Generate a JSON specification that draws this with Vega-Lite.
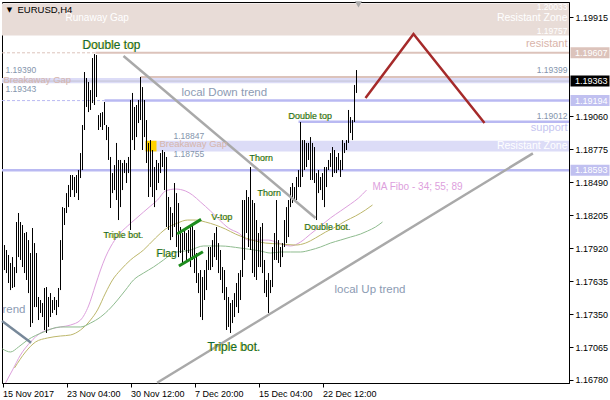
{
  "$schema": "https://vega.github.io/schema/vega-lite/v6.json",
  "width": 567,
  "height": 381,
  "autosize": "none",
  "padding": {"left": 2, "top": 2, "right": 41, "bottom": 17},
  "background": "white",
  "config": {"view": {"stroke": "#000000", "strokeWidth": 1}, "text": {"font": "Liberation Sans"}},
  "encoding": {
    "x": {"field": "i", "type": "quantitative", "scale": {"domain": [0.75, 284.25], "nice": false, "zero": false},
      "axis": {"values": [1, 33, 65, 97, 129, 161], "labelExpr": "datum.value == 1 ? '15 Nov 2017' : datum.value == 33 ? '23 Nov 04:00' : datum.value == 65 ? '30 Nov 12:00' : datum.value == 97 ? '7 Dec 20:00' : datum.value == 129 ? '15 Dec 04:00' : '22 Dec 12:00'", "title": null, "grid": false, "tickSize": 4, "labelAlign": "left", "labelBaseline": "top", "labelPadding": 2, "labelFont": "Liberation Sans", "labelFontSize": 9, "labelColor": "#000000", "tickColor": "#000000", "domainColor": "#000000", "labelOverlap": false, "labelFlush": false}},
    "y": {"field": "p", "type": "quantitative", "scale": {"domain": [1.16754, 1.20046], "nice": false, "zero": false},
      "axis": {"orient": "right", "values": [1.1678, 1.17065, 1.1735, 1.17635, 1.1792, 1.18205, 1.1849, 1.18775, 1.1906, 1.19915], "format": ".5f", "title": null, "grid": false, "tickSize": 4, "labelPadding": 2, "labelFont": "Liberation Sans", "labelFontSize": 9, "labelColor": "#000000", "tickColor": "#000000", "domainColor": "#000000", "labelOverlap": false, "labelFlush": false}}
  },
  "layer": [
    {"data": {"values": [{"i": 0.75, "i2": 284.25, "p": 1.20033, "p2": 1.19757}]},
     "mark": {"type": "rect", "color": "#e8dcd7"},
     "encoding": {"x2": {"field": "i2"}, "y2": {"field": "p2"}}},
    {"data": {"values": [{"i": 0.75, "i2": 284.25, "p": 1.1939, "p2": 1.19343}, {"i": 72.5, "i2": 284.25, "p": 1.18847, "p2": 1.18755}]},
     "mark": {"type": "rect", "color": "#dcdcf7"},
     "encoding": {"x2": {"field": "i2"}, "y2": {"field": "p2"}}},
    {"data": {"values": [{"i": 72.5, "i2": 78, "p": 1.18847, "p2": 1.18755}]},
     "mark": {"type": "rect", "color": "#ffd200"},
     "encoding": {"x2": {"field": "i2"}, "y2": {"field": "p2"}}},
    {"data": {"values": [{"i": 47.5, "i2": 284.25, "p": 1.19607}, {"i": 70, "i2": 284.25, "p": 1.19399}]},
     "mark": {"type": "rule", "color": "#dcc3bb", "strokeWidth": 2},
     "encoding": {"x2": {"field": "i2"}}},
    {"data": {"values": [{"i": 0.75, "i2": 47.5, "p": 1.19607}]},
     "mark": {"type": "rule", "color": "#dcc3bb", "strokeWidth": 1, "strokeDash": [3, 2]},
     "encoding": {"x2": {"field": "i2"}}},
    {"data": {"values": [{"i": 52, "i2": 284.25, "p": 1.19194}, {"i": 149, "i2": 284.25, "p": 1.19012}, {"i": 0.75, "i2": 284.25, "p": 1.18593}]},
     "mark": {"type": "rule", "color": "#b9b9f2", "strokeWidth": 2.5},
     "encoding": {"x2": {"field": "i2"}}},
    {"data": {"values": [{"i": 0.75, "i2": 52, "p": 1.19194}]},
     "mark": {"type": "rule", "color": "#b9b9f2", "strokeWidth": 1, "strokeDash": [3, 2]},
     "encoding": {"x2": {"field": "i2"}}},
    {"data": {"values": [{"i": 0.75, "i2": 284.25, "p": 1.19363}]},
     "mark": {"type": "rule", "color": "#c4c4d4", "strokeWidth": 1},
     "encoding": {"x2": {"field": "i2"}}},
    {"data": {"values": [
      {"m":"34","i":2.5,"p":1.16754},{"m":"34","i":6,"p":1.16866},{"m":"34","i":10,"p":1.16996},{"m":"34","i":15,"p":1.17108},{"m":"34","i":20,"p":1.17186},{"m":"34","i":25,"p":1.1722},{"m":"34","i":30,"p":1.17238},{"m":"34","i":35,"p":1.17255},{"m":"34","i":40,"p":1.17298},{"m":"34","i":44,"p":1.17419},{"m":"34","i":47.5,"p":1.17601},{"m":"34","i":50,"p":1.1773},{"m":"34","i":52.5,"p":1.17842},{"m":"34","i":55,"p":1.17929},{"m":"34","i":59,"p":1.18033},{"m":"34","i":63.5,"p":1.1811},{"m":"34","i":67.5,"p":1.18171},{"m":"34","i":71.5,"p":1.18231},{"m":"34","i":75,"p":1.18283},{"m":"34","i":78.5,"p":1.18335},{"m":"34","i":82.5,"p":1.18413},{"m":"34","i":87.5,"p":1.1843},{"m":"34","i":92.5,"p":1.18413},{"m":"34","i":96,"p":1.18378},{"m":"34","i":100,"p":1.18318},{"m":"34","i":105,"p":1.1824},{"m":"34","i":109,"p":1.18171},{"m":"34","i":114,"p":1.18093},{"m":"34","i":119,"p":1.1805},{"m":"34","i":124,"p":1.17989},{"m":"34","i":129,"p":1.17989},{"m":"34","i":134,"p":1.17989},{"m":"34","i":139,"p":1.17963},{"m":"34","i":145,"p":1.17938},{"m":"34","i":150,"p":1.17972},{"m":"34","i":155,"p":1.18041},{"m":"34","i":160,"p":1.1811},{"m":"34","i":165,"p":1.1818},{"m":"34","i":170,"p":1.1824},{"m":"34","i":175,"p":1.183},{"m":"34","i":179,"p":1.18352},{"m":"34","i":183,"p":1.18421},
      {"m":"55","i":7,"p":1.16884},{"m":"55","i":12.5,"p":1.17022},{"m":"55","i":17.5,"p":1.17108},{"m":"55","i":23.5,"p":1.17143},{"m":"55","i":30,"p":1.1716},{"m":"55","i":35,"p":1.17169},{"m":"55","i":40,"p":1.17212},{"m":"55","i":45,"p":1.17298},{"m":"55","i":48.5,"p":1.17385},{"m":"55","i":52.5,"p":1.17531},{"m":"55","i":56,"p":1.17644},{"m":"55","i":60,"p":1.1773},{"m":"55","i":65,"p":1.17817},{"m":"55","i":71.5,"p":1.17903},{"m":"55","i":77.5,"p":1.18007},{"m":"55","i":82.5,"p":1.18084},{"m":"55","i":88.5,"p":1.18136},{"m":"55","i":93.5,"p":1.18162},{"m":"55","i":97.5,"p":1.18162},{"m":"55","i":102.5,"p":1.18145},{"m":"55","i":107.5,"p":1.18119},{"m":"55","i":112.5,"p":1.18084},{"m":"55","i":117.5,"p":1.18041},{"m":"55","i":122.5,"p":1.18007},{"m":"55","i":127.5,"p":1.17981},{"m":"55","i":132.5,"p":1.17963},{"m":"55","i":140,"p":1.17955},{"m":"55","i":147.5,"p":1.17946},{"m":"55","i":152.5,"p":1.17963},{"m":"55","i":157.5,"p":1.18007},{"m":"55","i":162.5,"p":1.18058},{"m":"55","i":167.5,"p":1.18102},{"m":"55","i":172.5,"p":1.18154},{"m":"55","i":177.5,"p":1.18197},{"m":"55","i":182.5,"p":1.18249},{"m":"55","i":186,"p":1.18292},
      {"m":"89","i":1,"p":1.17048},{"m":"89","i":5,"p":1.17022},{"m":"89","i":9,"p":1.17065},{"m":"89","i":13.5,"p":1.17125},{"m":"89","i":21.5,"p":1.17194},{"m":"89","i":30,"p":1.17238},{"m":"89","i":40,"p":1.17238},{"m":"89","i":45,"p":1.17272},{"m":"89","i":50,"p":1.17324},{"m":"89","i":55,"p":1.17402},{"m":"89","i":58.5,"p":1.17471},{"m":"89","i":62.5,"p":1.17557},{"m":"89","i":66.5,"p":1.17644},{"m":"89","i":71.5,"p":1.17704},{"m":"89","i":76.5,"p":1.17756},{"m":"89","i":81.5,"p":1.17817},{"m":"89","i":86.5,"p":1.17877},{"m":"89","i":95,"p":1.17903},{"m":"89","i":101.5,"p":1.17938},{"m":"89","i":110,"p":1.17938},{"m":"89","i":120,"p":1.1792},{"m":"89","i":130,"p":1.17894},{"m":"89","i":135,"p":1.17877},{"m":"89","i":140,"p":1.17886},{"m":"89","i":145,"p":1.17886},{"m":"89","i":150,"p":1.17886},{"m":"89","i":155,"p":1.17903},{"m":"89","i":160,"p":1.17929},{"m":"89","i":165,"p":1.17963},{"m":"89","i":170,"p":1.17989},{"m":"89","i":175,"p":1.18015},{"m":"89","i":180,"p":1.18041},{"m":"89","i":183.5,"p":1.18067},{"m":"89","i":187.5,"p":1.18102},{"m":"89","i":191,"p":1.18145}
     ]},
     "mark": {"type": "line", "strokeWidth": 1, "interpolate": "monotone"},
     "encoding": {"color": {"field": "m", "type": "nominal", "scale": {"domain": ["34", "55", "89"], "range": ["#dda0dd", "#bdb76b", "#8fbc8f"]}, "legend": null}}},
    {"data": {"values": [
      {"i":2,"p":1.1773,"p2":1.17946},{"i":3,"p":1.17704,"p2":1.17903},{"i":4,"p":1.17618,"p2":1.1786},{"i":5,"p":1.17557,"p2":1.17791},{"i":6,"p":1.17575,"p2":1.17842},{"i":7,"p":1.17583,"p2":1.17756},{"i":8,"p":1.17704,"p2":1.18145},{"i":9,"p":1.17842,"p2":1.18223},{"i":10,"p":1.17817,"p2":1.18145},{"i":11,"p":1.17756,"p2":1.18119},{"i":12,"p":1.17704,"p2":1.1805},{"i":13,"p":1.17644,"p2":1.18058},{"i":14,"p":1.17531,"p2":1.17989},{"i":15,"p":1.17238,"p2":1.17877},{"i":16,"p":1.17272,"p2":1.18093},{"i":17,"p":1.1741,"p2":1.17963},{"i":18,"p":1.1741,"p2":1.17877},{"i":19,"p":1.17298,"p2":1.17497},{"i":20,"p":1.17359,"p2":1.17471},{"i":21,"p":1.17324,"p2":1.17445},{"i":22,"p":1.17212,"p2":1.17575},{"i":23,"p":1.17186,"p2":1.17583},{"i":24,"p":1.17238,"p2":1.17497},{"i":25,"p":1.17324,"p2":1.17531},{"i":26,"p":1.17359,"p2":1.17471},{"i":27,"p":1.17385,"p2":1.17497},{"i":28,"p":1.17341,"p2":1.17471},{"i":29,"p":1.1741,"p2":1.17575},{"i":30,"p":1.17557,"p2":1.17989},
      {"i":31,"p":1.17817,"p2":1.18274},{"i":32,"p":1.18119,"p2":1.18266},{"i":33,"p":1.18223,"p2":1.18395},{"i":34,"p":1.18274,"p2":1.18465},{"i":35,"p":1.18361,"p2":1.18551},{"i":36,"p":1.18421,"p2":1.18551},{"i":37,"p":1.18361,"p2":1.18534},{"i":38,"p":1.18395,"p2":1.18551},{"i":39,"p":1.18335,"p2":1.18594},{"i":40,"p":1.18525,"p2":1.18741},{"i":41,"p":1.18594,"p2":1.18983},{"i":42,"p":1.1894,"p2":1.19441},{"i":43,"p":1.19139,"p2":1.19389},{"i":44,"p":1.19095,"p2":1.19355},{"i":45,"p":1.19113,"p2":1.19285},{"i":46,"p":1.19173,"p2":1.19562},{"i":47,"p":1.19156,"p2":1.19596},{"i":48,"p":1.19225,"p2":1.19588},{"i":49,"p":1.1894,"p2":1.19069},{"i":50,"p":1.18966,"p2":1.19087},{"i":51,"p":1.1894,"p2":1.19095},{"i":52,"p":1.18983,"p2":1.19182},{"i":53,"p":1.18853,"p2":1.18983},{"i":54,"p":1.18681,"p2":1.18966},{"i":55,"p":1.18266,"p2":1.18707},{"i":56,"p":1.18395,"p2":1.18568},{"i":57,"p":1.18421,"p2":1.18637},{"i":58,"p":1.18335,"p2":1.18828},{"i":59,"p":1.18162,"p2":1.18681},{"i":60,"p":1.18274,"p2":1.18681},
      {"i":61,"p":1.18421,"p2":1.18655},{"i":62,"p":1.18568,"p2":1.18681},{"i":63,"p":1.18482,"p2":1.18655},{"i":64,"p":1.18568,"p2":1.18707},{"i":65,"p":1.18076,"p2":1.19199},{"i":66,"p":1.18853,"p2":1.1926},{"i":67,"p":1.18767,"p2":1.19139},{"i":68,"p":1.18879,"p2":1.19156},{"i":69,"p":1.19,"p2":1.19199},{"i":70,"p":1.19026,"p2":1.19398},{"i":71,"p":1.18767,"p2":1.19311},{"i":72,"p":1.18879,"p2":1.19199},{"i":73,"p":1.18655,"p2":1.19026},{"i":74,"p":1.18361,"p2":1.18828},{"i":75,"p":1.18447,"p2":1.18853},{"i":76,"p":1.18361,"p2":1.18767},{"i":77,"p":1.18274,"p2":1.1862},{"i":78,"p":1.18421,"p2":1.18681},{"i":79,"p":1.18482,"p2":1.18655},{"i":80,"p":1.18568,"p2":1.18741},{"i":81,"p":1.1862,"p2":1.18767},{"i":82,"p":1.18421,"p2":1.1875},{"i":83,"p":1.18102,"p2":1.18707},{"i":84,"p":1.18076,"p2":1.18361},{"i":85,"p":1.17989,"p2":1.18274},{"i":86,"p":1.18015,"p2":1.18223},{"i":87,"p":1.18102,"p2":1.18482},{"i":88,"p":1.17929,"p2":1.18395},{"i":89,"p":1.17842,"p2":1.18309},{"i":90,"p":1.17877,"p2":1.18102},
      {"i":91,"p":1.17791,"p2":1.1805},{"i":92,"p":1.17903,"p2":1.18076},{"i":93,"p":1.17817,"p2":1.1805},{"i":94,"p":1.17877,"p2":1.18076},{"i":95,"p":1.17756,"p2":1.18102},{"i":96,"p":1.17817,"p2":1.18136},{"i":97,"p":1.17704,"p2":1.18076},{"i":98,"p":1.17618,"p2":1.17877},{"i":99,"p":1.17531,"p2":1.17704},{"i":100,"p":1.17324,"p2":1.1773},{"i":101,"p":1.17298,"p2":1.1767},{"i":102,"p":1.17471,"p2":1.1773},{"i":103,"p":1.17557,"p2":1.17817},{"i":104,"p":1.1773,"p2":1.17929},{"i":105,"p":1.1773,"p2":1.17929},{"i":106,"p":1.17756,"p2":1.17989},{"i":107,"p":1.17842,"p2":1.1805},{"i":108,"p":1.17817,"p2":1.18102},{"i":109,"p":1.17704,"p2":1.17963},{"i":110,"p":1.17644,"p2":1.17903},{"i":111,"p":1.17531,"p2":1.17756},{"i":112,"p":1.17471,"p2":1.1773},{"i":113,"p":1.17212,"p2":1.17583},{"i":114,"p":1.17238,"p2":1.17497},{"i":115,"p":1.17186,"p2":1.17445},{"i":116,"p":1.17272,"p2":1.17471},{"i":117,"p":1.17324,"p2":1.17531},{"i":118,"p":1.1741,"p2":1.17618},{"i":119,"p":1.17359,"p2":1.17704},{"i":120,"p":1.17471,"p2":1.1773},
      {"i":121,"p":1.1767,"p2":1.18335},{"i":122,"p":1.17817,"p2":1.18335},{"i":123,"p":1.1805,"p2":1.18421},{"i":124,"p":1.17929,"p2":1.18361},{"i":125,"p":1.17903,"p2":1.1862},{"i":126,"p":1.17704,"p2":1.18335},{"i":127,"p":1.1767,"p2":1.18309},{"i":128,"p":1.17644,"p2":1.18162},{"i":129,"p":1.17756,"p2":1.1805},{"i":130,"p":1.17756,"p2":1.18102},{"i":131,"p":1.17704,"p2":1.18136},{"i":132,"p":1.17531,"p2":1.17817},{"i":133,"p":1.17497,"p2":1.17644},{"i":134,"p":1.17359,"p2":1.17704},{"i":135,"p":1.17531,"p2":1.17644},{"i":136,"p":1.17583,"p2":1.17929},{"i":137,"p":1.17817,"p2":1.1805},{"i":138,"p":1.17817,"p2":1.18335},{"i":139,"p":1.17791,"p2":1.17989},{"i":140,"p":1.17756,"p2":1.17929},{"i":141,"p":1.17842,"p2":1.17963},{"i":142,"p":1.17929,"p2":1.18162},{"i":143,"p":1.17963,"p2":1.18274},{"i":144,"p":1.18015,"p2":1.18335},{"i":145,"p":1.18274,"p2":1.18447},{"i":146,"p":1.18309,"p2":1.18482},{"i":147,"p":1.18335,"p2":1.18447},{"i":148,"p":1.18335,"p2":1.18534},{"i":149,"p":1.18447,"p2":1.18594},{"i":150,"p":1.18447,"p2":1.19009},
      {"i":151,"p":1.18534,"p2":1.18853},{"i":152,"p":1.18594,"p2":1.18853},{"i":153,"p":1.1862,"p2":1.18828},{"i":154,"p":1.18681,"p2":1.18828},{"i":155,"p":1.18508,"p2":1.18879},{"i":156,"p":1.18508,"p2":1.18828},{"i":157,"p":1.18482,"p2":1.18793},{"i":158,"p":1.18162,"p2":1.18568},{"i":159,"p":1.18395,"p2":1.18594},{"i":160,"p":1.18421,"p2":1.18534},{"i":161,"p":1.18335,"p2":1.18568},{"i":162,"p":1.18274,"p2":1.1862},{"i":163,"p":1.18447,"p2":1.1862},{"i":164,"p":1.18594,"p2":1.18681},{"i":165,"p":1.1862,"p2":1.18741},{"i":166,"p":1.18534,"p2":1.18793},{"i":167,"p":1.18568,"p2":1.18767},{"i":168,"p":1.18568,"p2":1.18707},{"i":169,"p":1.18594,"p2":1.18741},{"i":170,"p":1.18534,"p2":1.18681},{"i":171,"p":1.18594,"p2":1.18853},{"i":172,"p":1.18741,"p2":1.18828},{"i":173,"p":1.18767,"p2":1.18853},{"i":174,"p":1.18828,"p2":1.19113},{"i":175,"p":1.18914,"p2":1.19052},{"i":176,"p":1.18853,"p2":1.19026},{"i":177,"p":1.19009,"p2":1.19329},{"i":178,"p":1.1926,"p2":1.19458}
     ]},
     "mark": {"type": "rule", "color": "#000000", "strokeWidth": 1},
     "encoding": {"y2": {"field": "p2"}}},
    {"data": {"values": [{"s": "d", "i": 61.5, "p": 1.19579}, {"s": "d", "i": 157.5, "p": 1.1818}, {"s": "u", "i": 78.3, "p": 1.16756}, {"s": "u", "i": 266.2, "p": 1.18738}]},
     "mark": {"type": "line", "color": "#a9a9a9", "strokeWidth": 2.5},
     "encoding": {"detail": {"field": "s"}}},
    {"data": {"values": [{"i": 0.75, "p": 1.1729}, {"i": 15.3, "p": 1.17102}]},
     "mark": {"type": "line", "color": "#778899", "strokeWidth": 2.5},
     "encoding": {}},
    {"data": {"values": [{"i": 182.5, "p": 1.19216}, {"i": 206.5, "p": 1.19769}, {"i": 242, "p": 1.19}]},
     "mark": {"type": "line", "color": "#a52a2a", "strokeWidth": 2.5},
     "encoding": {}},
    {"data": {"values": [{"s": "a", "i": 88.3, "p": 1.18041}, {"s": "a", "i": 100.3, "p": 1.18168}, {"s": "b", "i": 89.2, "p": 1.17765}, {"s": "b", "i": 101.2, "p": 1.17888}]},
     "mark": {"type": "line", "color": "#1e8c1e", "strokeWidth": 3},
     "encoding": {"detail": {"field": "s"}}},
    {"data": {"values": [{"i": 179, "p": 1.20026}]},
     "mark": {"type": "point", "shape": "triangle-down", "filled": true, "color": "#a9a9a9", "size": 50, "opacity": 1},
     "encoding": {}},
    {"data": {"values": [{"i": 8.5, "p": 1.19981, "t": "EURUSD,H4"}]},
     "mark": {"type": "text", "align": "left", "baseline": "middle", "fontSize": 9.5, "color": "#000000"},
     "encoding": {"text": {"field": "t"}}},
    {"data": {"values": [{"i": 4.5, "p": 1.19981, "t": "▼"}]},
     "mark": {"type": "text", "align": "center", "baseline": "middle", "fontSize": 7, "color": "#000000", "font": "DejaVu Sans"},
     "encoding": {"text": {"field": "t"}}},
    {"data": {"values": [{"i": 283.5, "p": 1.20005, "t": "1.20033"}, {"i": 283.5, "p": 1.19799, "t": "1.19757"}]},
     "mark": {"type": "text", "align": "right", "baseline": "middle", "fontSize": 8.5, "color": "#ffffff"},
     "encoding": {"text": {"field": "t"}}},
    {"data": {"values": [{"i": 283.5, "p": 1.19907, "t": "Resistant Zone"}, {"i": 283.5, "p": 1.18802, "t": "Resistant Zone"}]},
     "mark": {"type": "text", "align": "right", "baseline": "middle", "fontSize": 10.5, "color": "#ffffff"},
     "encoding": {"text": {"field": "t"}}},
    {"data": {"values": [{"i": 32.5, "p": 1.19907, "t": "Runaway Gap"}]},
     "mark": {"type": "text", "align": "left", "baseline": "middle", "fontSize": 10, "color": "#ffffff"},
     "encoding": {"text": {"field": "t"}}},
    {"data": {"values": [{"i": 283.5, "p": 1.19458, "t": "1.19399"}, {"i": 283.5, "p": 1.19061, "t": "1.19012"}]},
     "mark": {"type": "text", "align": "right", "baseline": "middle", "fontSize": 8.5, "color": "#8494ac"},
     "encoding": {"text": {"field": "t"}}},
    {"data": {"values": [{"i": 2.5, "p": 1.19458, "t": "1.19390"}, {"i": 2.5, "p": 1.19294, "t": "1.19343"}, {"i": 86.5, "p": 1.18892, "t": "1.18847"}, {"i": 86.5, "p": 1.18733, "t": "1.18755"}]},
     "mark": {"type": "text", "align": "left", "baseline": "middle", "fontSize": 8.5, "color": "#8494ac"},
     "encoding": {"text": {"field": "t"}}},
    {"data": {"values": [{"i": 1.5, "p": 1.19372, "t": "Breakaway Gap"}, {"i": 79.5, "p": 1.18815, "t": "Breakaway Gap"}]},
     "mark": {"type": "text", "align": "left", "baseline": "middle", "fontSize": 9.5, "color": "#d6b5aa"},
     "encoding": {"text": {"field": "t"}}},
    {"data": {"values": [{"i": 283.5, "p": 1.19683, "t": "resistant"}]},
     "mark": {"type": "text", "align": "right", "baseline": "middle", "fontSize": 11, "color": "#d9b4aa"},
     "encoding": {"text": {"field": "t"}}},
    {"data": {"values": [{"i": 283.5, "p": 1.18957, "t": "support"}]},
     "mark": {"type": "text", "align": "right", "baseline": "middle", "fontSize": 11, "color": "#c4c4f0"},
     "encoding": {"text": {"field": "t"}}},
    {"data": {"values": [{"i": 90.5, "p": 1.1926, "t": "local Down trend"}, {"i": 167, "p": 1.17557, "t": "local Up trend"}, {"i": 1, "p": 1.17385, "t": "rend"}]},
     "mark": {"type": "text", "align": "left", "baseline": "middle", "fontSize": 11.5, "color": "#8c9bb3"},
     "encoding": {"text": {"field": "t"}}},
    {"data": {"values": [{"i": 186, "p": 1.18447, "t": "MA Fibo - 34; 55; 89"}]},
     "mark": {"type": "text", "align": "left", "baseline": "middle", "fontSize": 10, "color": "#dda0dd"},
     "encoding": {"text": {"field": "t"}}},
    {"data": {"name": "labels", "values": [
      {"i": 41, "p": 1.19674, "t": "Double top", "lvl": "l"},
      {"i": 103.5, "p": 1.17065, "t": "Triple bot.", "lvl": "l"},
      {"i": 78, "p": 1.17868, "t": "Flag", "lvl": "m"},
      {"i": 51.5, "p": 1.18033, "t": "Triple bot.", "lvl": "s"},
      {"i": 105.5, "p": 1.18188, "t": "V-top", "lvl": "s"},
      {"i": 124.5, "p": 1.18698, "t": "Thorn", "lvl": "s"},
      {"i": 128.5, "p": 1.18395, "t": "Thorn", "lvl": "s"},
      {"i": 144, "p": 1.19061, "t": "Double top", "lvl": "s"},
      {"i": 152, "p": 1.18102, "t": "Double bot.", "lvl": "s"}
     ]},
     "layer": [
       {"mark": {"type": "text", "align": "left", "baseline": "middle", "color": "#e0c800", "dx": -0.6, "opacity": 0.85},
        "encoding": {"text": {"field": "t"}, "size": {"field": "lvl", "type": "nominal", "scale": {"domain": ["s", "m", "l"], "range": [9, 12, 14]}, "legend": null}}},
       {"mark": {"type": "text", "align": "left", "baseline": "middle", "color": "#0f6a3c"},
        "encoding": {"text": {"field": "t"}, "size": {"field": "lvl", "type": "nominal", "scale": {"domain": ["s", "m", "l"], "range": [9, 12, 14]}, "legend": null}}}
     ]},
    {"data": {"values": [{"i": 294.75, "p": 1.19607, "k": "r"}, {"i": 294.75, "p": 1.19363, "k": "bid"}, {"i": 294.75, "p": 1.19194, "k": "s"}, {"i": 294.75, "p": 1.18593, "k": "s"}]},
     "mark": {"type": "tick", "orient": "horizontal", "size": 39, "thickness": 11, "opacity": 1},
     "encoding": {"color": {"field": "k", "type": "nominal", "scale": {"domain": ["r", "bid", "s"], "range": ["#dcc3bb", "#000000", "#c0c0f0"]}, "legend": null}}},
    {"data": {"values": [{"i": 287.25, "p": 1.19607, "t": "1.19607"}, {"i": 287.25, "p": 1.19363, "t": "1.19363"}, {"i": 287.25, "p": 1.19194, "t": "1.19194"}, {"i": 287.25, "p": 1.18593, "t": "1.18593"}]},
     "mark": {"type": "text", "align": "left", "baseline": "middle", "fontSize": 9, "color": "#ffffff"},
     "encoding": {"text": {"field": "t"}}}
  ],
  "resolve": {"scale": {"color": "independent", "size": "independent"}}
}
